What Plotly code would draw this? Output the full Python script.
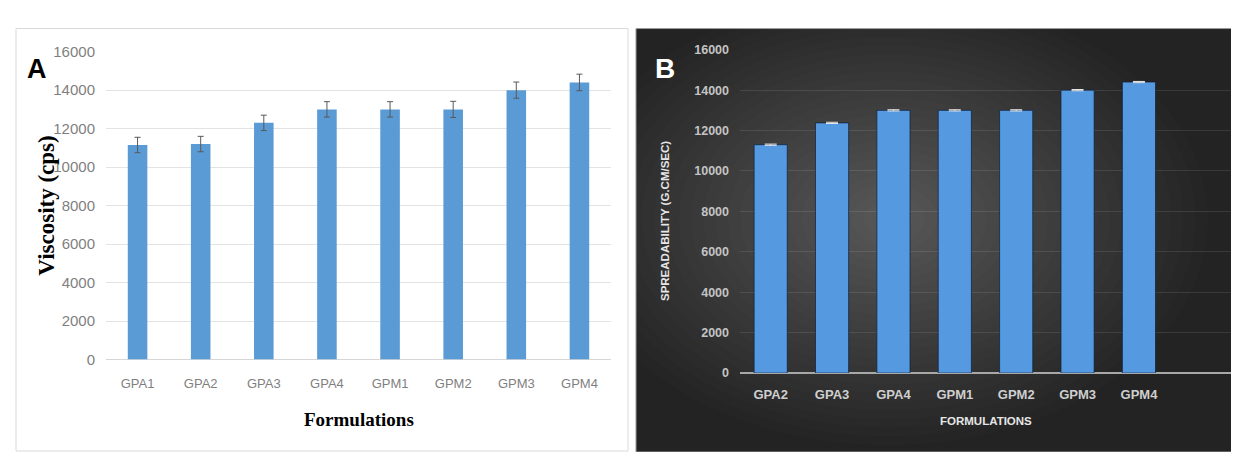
import plotly.graph_objects as go

W, H = 1239, 452

# ---- Data ----
cats_a = ["GPA1", "GPA2", "GPA3", "GPA4", "GPM1", "GPM2", "GPM3", "GPM4"]
visc = [11150, 11200, 12300, 13000, 13000, 13000, 14000, 14400]
visc_err = [400, 400, 400, 400, 400, 420, 420, 430]

cats_b = ["GPA2", "GPA3", "GPA4", "GPM1", "GPM2", "GPM3", "GPM4"]
spread = [11300, 12380, 13000, 13000, 13000, 14000, 14400]
spread_err = [30, 30, 30, 30, 30, 30, 30]

y_ticks = [0, 2000, 4000, 6000, 8000, 10000, 12000, 14000, 16000]


def px(x):
    return x / W


def py(y):
    return 1 - y / H


fig = go.Figure()

fig.add_trace(go.Bar(
    x=cats_a, y=visc, xaxis="x", yaxis="y",
    marker=dict(color="#5B9BD5", line=dict(width=0)),
    width=0.31,
    error_y=dict(type="data", array=visc_err, color="#595959", thickness=1, width=3),
    showlegend=False,
))

fig.add_trace(go.Bar(
    x=cats_b, y=spread, xaxis="x2", yaxis="y2",
    marker=dict(color="#559AE0", line=dict(width=1, color="rgba(15,30,55,0.7)")),
    width=0.54,
    error_y=dict(type="data", array=spread_err, color="#e8e8e8", thickness=1, width=6),
    showlegend=False,
))

shapes = []
# Panel A frame
shapes.append(dict(type="rect", xref="paper", yref="paper",
                   x0=px(8), x1=px(620), y0=py(451), y1=py(12),
                   line=dict(color="#d9d9d9", width=1), fillcolor="white", layer="below"))
# Panel B dark background
shapes.append(dict(type="rect", xref="paper", yref="paper",
                   x0=px(628), x1=px(1239), y0=py(452), y1=py(12),
                   line=dict(color="#9a9a9a", width=1), fillcolor="#232323", layer="below"))
# pseudo radial gradient (many faint layers)
cx, cy = 880, 210
n = 26
for i in range(n):
    f = 1 - i / n
    rx = 320 * f
    ry = 235 * f
    shapes.append(dict(type="circle", xref="paper", yref="paper",
                       x0=px(cx - rx), x1=px(cx + rx), y0=py(cy + ry), y1=py(cy - ry),
                       line=dict(width=0), fillcolor="rgba(255,255,255,0.0125)", layer="below"))

annotations = [
    dict(text="<b>A</b>", x=px(29), y=py(54), xref="paper", yref="paper", showarrow=False,
         font=dict(family="Liberation Sans, Arial", size=27, color="black"),
         xanchor="center", yanchor="middle"),
    dict(text="<b>B</b>", x=px(657), y=py(53), xref="paper", yref="paper", showarrow=False,
         font=dict(family="Liberation Sans, Arial", size=28, color="white"),
         xanchor="center", yanchor="middle"),
    dict(text="<b>Viscosity (cps)</b>", x=px(39), y=py(196), xref="paper", yref="paper",
         showarrow=False, textangle=-90,
         font=dict(family="Liberation Serif, Times New Roman", size=23, color="black"),
         xanchor="center", yanchor="middle"),
    dict(text="<b>Formulations</b>", x=px(351), y=py(418), xref="paper", yref="paper",
         showarrow=False,
         font=dict(family="Liberation Serif, Times New Roman", size=19, color="black"),
         xanchor="center", yanchor="middle"),
    dict(text="<b>SPREADABILITY (G.CM/SEC)</b>", x=px(657), y=py(212), xref="paper", yref="paper",
         showarrow=False, textangle=-90,
         font=dict(family="Liberation Sans, Arial", size=11.5, color="#e6e6e6"),
         xanchor="center", yanchor="middle"),
    dict(text="<b>FORMULATIONS</b>", x=px(978), y=py(420), xref="paper", yref="paper",
         showarrow=False,
         font=dict(family="Liberation Sans, Arial", size=11.5, color="#e6e6e6"),
         xanchor="center", yanchor="middle"),
]

fig.update_layout(
    width=W, height=H,
    margin=dict(l=0, r=0, t=0, b=0),
    paper_bgcolor="white",
    plot_bgcolor="rgba(0,0,0,0)",
    bargap=0.5,
    shapes=shapes,
    annotations=annotations,
    xaxis=dict(domain=[px(98), px(603)], anchor="y", type="category",
               range=[-0.5, 7.5], showgrid=False, showline=False, zeroline=False,
               ticks="", ticklabelstandoff=14,
               tickfont=dict(family="Liberation Sans Narrow, Liberation Sans", size=13, color="#7f7f7f")),
    yaxis=dict(domain=[py(356), py(36)], anchor="x", range=[0, 16000],
               tickvals=y_ticks, tickformat="d", showgrid=True, gridcolor="#e3e3e3", gridwidth=1,
               zeroline=True, zerolinecolor="#d6d6d6", zerolinewidth=1,
               showline=False, ticks="", ticklabelstandoff=10,
               tickfont=dict(family="Liberation Sans Narrow, Liberation Sans", size=15, color="#7f7f7f")),
    xaxis2=dict(domain=[px(732), px(1223)], anchor="y2", type="category",
                range=[-0.5, 7.5], showgrid=False, showline=False, zeroline=False,
                ticks="", ticklabelstandoff=12,
                tickfont=dict(family="Liberation Sans Narrow, Liberation Sans", size=13, color="#cfcfcf",
                              weight="bold")),
    yaxis2=dict(domain=[py(370), py(34)], anchor="x2", range=[0, 16000],
                tickvals=y_ticks, tickformat="d", showgrid=True, gridcolor="rgba(255,255,255,0.10)",
                gridwidth=1, zeroline=True, zerolinecolor="#a8a8a8", zerolinewidth=2,
                showline=False, ticks="", ticklabelstandoff=10,
                tickfont=dict(family="Liberation Sans Narrow, Liberation Sans", size=12.5, color="#c4c4c4",
                              weight="bold")),
)

fig.write_html("out.html")
